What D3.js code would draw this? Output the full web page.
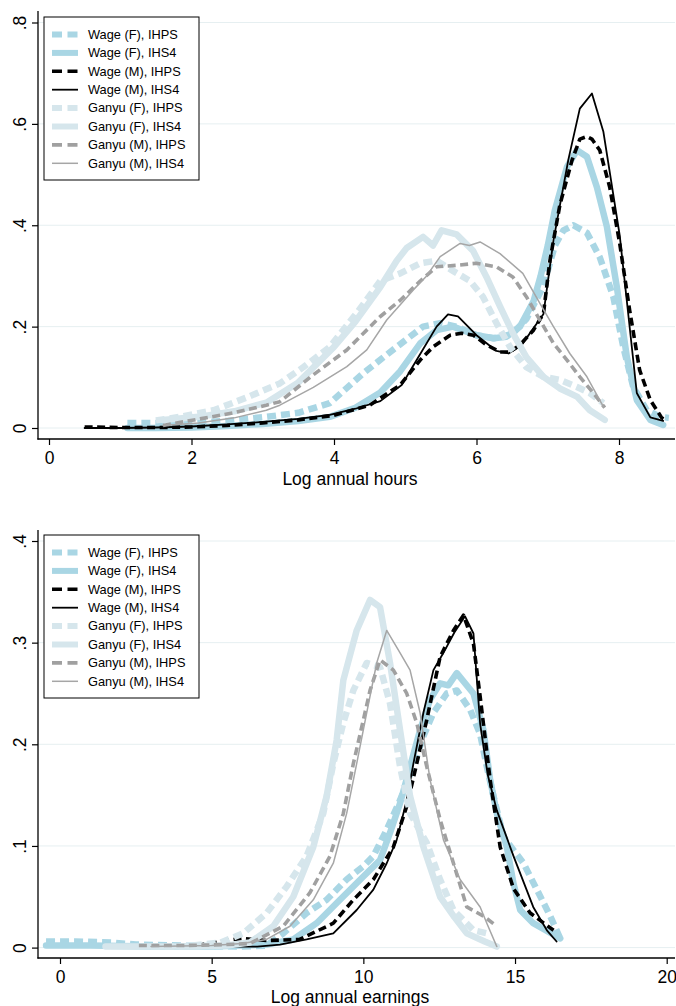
<!DOCTYPE html>
<html><head><meta charset="utf-8">
<script src="https://cdn.jsdelivr.net/npm/d3@7"></script>
<style>body{margin:0;background:#fff} text{font-family:"Liberation Sans",Arial,Helvetica,sans-serif}</style>
</head><body><svg id="c" width="676" height="1006"></svg>
<script>
// ---------- DATA ----------
const seriesLabels = ["Wage (F), IHPS","Wage (F), IHS4","Wage (M), IHPS","Wage (M), IHS4",
                      "Ganyu (F), IHPS","Ganyu (F), IHS4","Ganyu (M), IHPS","Ganyu (M), IHS4"];
const hoursTicksX = [0,2,4,6,8];
const hoursTicksY = [0,0.2,0.4,0.6,0.8];
const hoursTickLabelsY = ["0",".2",".4",".6",".8"];
const earnTicksX = [0,5,10,15,20];
const earnTicksY = [0,0.1,0.2,0.3,0.4];
const earnTickLabelsY = ["0",".1",".2",".3",".4"];

// Top panel: log annual hours (x, density)
const hoursWageF_IHPS = [[1.1,0.01],[1.5,0.01],[2,0.01],[2.5,0.014],[3.05,0.022],[3.5,0.03],[3.94,0.049],[4.41,0.108],[4.88,0.16],[5.25,0.2],[5.49,0.207],[5.72,0.2],[6.0,0.183],[6.24,0.177],[6.5,0.185],[6.7,0.215],[6.94,0.28],[7.1,0.36],[7.22,0.39],[7.36,0.4],[7.55,0.385],[7.73,0.337],[7.92,0.259],[8.06,0.16],[8.2,0.081],[8.39,0.035],[8.58,0.022],[8.7,0.02]];
const hoursWageF_IHS4 = [[1.1,0.0],[1.5,0.0],[2,0.001],[2.5,0.004],[3,0.008],[3.5,0.014],[3.94,0.022],[4.3,0.04],[4.65,0.07],[4.93,0.112],[5.21,0.167],[5.44,0.193],[5.67,0.2],[6.0,0.183],[6.24,0.177],[6.42,0.18],[6.61,0.2],[6.8,0.25],[6.9,0.3],[7.0,0.36],[7.1,0.43],[7.27,0.515],[7.41,0.548],[7.55,0.535],[7.69,0.475],[7.83,0.397],[7.97,0.278],[8.11,0.14],[8.25,0.055],[8.44,0.016],[8.62,0.006]];
const hoursWageM_IHPS = [[0.5,0.002],[1,0.001],[1.5,0.001],[2,0.002],[2.5,0.005],[3,0.01],[3.5,0.016],[4,0.025],[4.5,0.045],[4.93,0.085],[5.21,0.134],[5.39,0.16],[5.63,0.183],[5.79,0.187],[5.96,0.183],[6.14,0.164],[6.33,0.15],[6.47,0.15],[6.61,0.164],[6.8,0.193],[6.94,0.226],[7.03,0.33],[7.17,0.44],[7.34,0.528],[7.45,0.57],[7.55,0.575],[7.62,0.57],[7.73,0.548],[7.87,0.475],[8.01,0.364],[8.15,0.232],[8.29,0.114],[8.44,0.055],[8.6,0.02],[8.67,0.015]];
const hoursWageM_IHS4 = [[0.5,0.0],[1,0.0],[1.5,0.001],[2,0.003],[2.5,0.007],[3,0.012],[3.5,0.018],[3.94,0.026],[4.3,0.038],[4.65,0.053],[4.95,0.085],[5.16,0.134],[5.44,0.2],[5.6,0.224],[5.74,0.22],[6.0,0.183],[6.28,0.152],[6.45,0.147],[6.63,0.163],[6.94,0.225],[7.08,0.37],[7.29,0.53],[7.45,0.63],[7.62,0.66],[7.78,0.585],[8.01,0.38],[8.25,0.069],[8.44,0.021],[8.62,0.014]];
const hoursGanyuF_IHPS = [[1.5,0.015],[1.84,0.022],[2.31,0.035],[2.77,0.06],[3.24,0.088],[3.57,0.12],[3.94,0.16],[4.32,0.227],[4.65,0.29],[4.93,0.305],[5.21,0.325],[5.44,0.33],[5.67,0.31],[5.91,0.29],[6.09,0.259],[6.28,0.207],[6.47,0.16],[6.7,0.12],[6.94,0.101],[7.17,0.095],[7.41,0.081],[7.59,0.069],[7.78,0.049]];
const hoursGanyuF_IHS4 = [[1.6,0.016],[2.1,0.022],[2.6,0.033],[3.05,0.05],[3.5,0.09],[4.0,0.16],[4.3,0.21],[4.65,0.278],[4.88,0.33],[5.02,0.355],[5.25,0.377],[5.39,0.36],[5.51,0.39],[5.72,0.382],[5.95,0.35],[6.14,0.298],[6.33,0.24],[6.51,0.187],[6.7,0.14],[6.94,0.101],[7.17,0.078],[7.41,0.062],[7.59,0.035],[7.8,0.016]];
const hoursGanyuM_IHPS = [[1.6,0.005],[2.12,0.018],[2.59,0.03],[3.05,0.045],[3.24,0.052],[3.71,0.105],[4.18,0.154],[4.65,0.22],[4.93,0.252],[5.21,0.29],[5.44,0.318],[5.72,0.321],[6.0,0.325],[6.28,0.318],[6.51,0.298],[6.7,0.259],[6.89,0.213],[7.08,0.167],[7.27,0.134],[7.45,0.101],[7.64,0.069],[7.8,0.04]];
const hoursGanyuM_IHS4 = [[1.6,0.005],[2.1,0.01],[2.6,0.02],[3.05,0.035],[3.24,0.045],[3.71,0.08],[4.18,0.121],[4.46,0.154],[4.74,0.213],[5.11,0.272],[5.3,0.3],[5.49,0.338],[5.77,0.364],[5.9,0.36],[6.05,0.367],[6.33,0.344],[6.65,0.305],[6.89,0.246],[7.08,0.2],[7.31,0.147],[7.55,0.101],[7.78,0.042]];

// Bottom panel: log annual earnings (x, density)
const earnWageF_IHPS = [[-0.46,0.006],[0.5,0.006],[1.7,0.005],[2.5,0.003],[4,0.002],[6,0.001],[6.81,0.002],[7.36,0.014],[8.13,0.034],[8.79,0.047],[9.45,0.067],[10.0,0.08],[10.33,0.09],[10.77,0.116],[11.21,0.145],[11.65,0.178],[11.98,0.208],[12.31,0.231],[12.75,0.25],[13.08,0.253],[13.52,0.234],[13.85,0.21],[14.07,0.178],[14.29,0.149],[14.62,0.109],[15.28,0.083],[15.72,0.057],[16.16,0.031],[16.49,0.009]];
const earnWageF_IHS4 = [[-0.46,0.002],[1,0.002],[3,0.001],[5,0.001],[6.81,0.003],[7.69,0.008],[8.46,0.024],[9.23,0.047],[10.0,0.07],[10.55,0.086],[10.88,0.113],[11.21,0.142],[11.54,0.178],[11.87,0.214],[12.2,0.244],[12.53,0.26],[12.8,0.258],[13.08,0.27],[13.63,0.25],[13.96,0.214],[14.18,0.165],[14.4,0.132],[14.73,0.099],[14.95,0.063],[15.17,0.037],[15.6,0.024],[16.49,0.009]];
const earnWageM_IHPS = [[4.5,0.002],[5.5,0.007],[6.0,0.009],[6.8,0.007],[7.9,0.008],[9.01,0.024],[9.67,0.047],[10.33,0.067],[10.99,0.099],[11.43,0.139],[11.76,0.181],[12.09,0.224],[12.53,0.286],[12.97,0.312],[13.3,0.327],[13.63,0.299],[13.85,0.247],[14.18,0.165],[14.51,0.099],[14.95,0.058],[15.5,0.034],[16.27,0.017]];
const earnWageM_IHS4 = [[5.5,0.001],[6.5,0.001],[7.25,0.003],[8.13,0.008],[9.01,0.014],[9.78,0.037],[10.33,0.057],[10.77,0.083],[11.1,0.106],[11.43,0.145],[11.65,0.181],[11.98,0.231],[12.31,0.273],[12.64,0.29],[13.0,0.31],[13.35,0.326],[13.63,0.309],[13.85,0.22],[14.1,0.17],[14.4,0.135],[14.95,0.09],[15.6,0.04],[16.05,0.017],[16.37,0.006]];
const earnGanyuF_IHPS = [[3,0.001],[4,0.001],[5.3,0.005],[6.04,0.014],[6.81,0.034],[7.47,0.06],[8.13,0.09],[8.68,0.132],[9.01,0.181],[9.34,0.221],[9.67,0.253],[10.11,0.28],[10.55,0.276],[10.88,0.24],[11.21,0.178],[11.54,0.132],[12.09,0.103],[12.53,0.067],[12.97,0.037],[13.63,0.017],[14.07,0.014]];
const earnGanyuF_IHS4 = [[1.5,0.001],[3,0.001],[4.5,0.001],[5.5,0.002],[6.26,0.005],[7.03,0.021],[7.69,0.05],[8.35,0.099],[8.79,0.149],[9.12,0.204],[9.34,0.263],[9.78,0.312],[10.22,0.342],[10.55,0.335],[10.88,0.28],[11.21,0.214],[11.54,0.149],[11.98,0.099],[12.53,0.05],[13.0,0.03],[13.41,0.014],[14.0,0.006],[14.4,0.001]];
const earnGanyuM_IHPS = [[2.6,0.002],[4,0.002],[5.5,0.003],[6.26,0.004],[7.36,0.021],[8.24,0.054],[8.9,0.09],[9.34,0.132],[9.67,0.181],[10.0,0.224],[10.22,0.253],[10.55,0.283],[10.99,0.273],[11.43,0.25],[11.76,0.221],[12.09,0.178],[12.53,0.126],[12.97,0.083],[13.41,0.04],[13.96,0.031],[14.4,0.021]];
const earnGanyuM_IHS4 = [[3,0.001],[5,0.002],[6,0.004],[6.81,0.008],[7.58,0.021],[8.35,0.047],[9.01,0.083],[9.45,0.132],[9.78,0.181],[10.11,0.231],[10.44,0.28],[10.77,0.312],[11.21,0.29],[11.54,0.273],[11.87,0.231],[12.2,0.165],[12.64,0.106],[13.19,0.067],[13.85,0.04],[14.07,0.024],[14.4,0.001]];

// ---------- STYLES ----------
const styles = [
  {color:"#a9d6e4", width:6.5, dash:"9,5"},
  {color:"#a9d6e4", width:6.5, dash:null},
  {color:"#000000", width:3.6, dash:"8,4.5"},
  {color:"#000000", width:1.8, dash:null},
  {color:"#d6e6ec", width:6.5, dash:"9,5"},
  {color:"#d6e6ec", width:6.5, dash:null},
  {color:"#a0a0a0", width:3.6, dash:"8,4.5"},
  {color:"#a6a6a6", width:1.5, dash:null}
];

const svg = d3.select("#c");
const FONT = 17.5;

function panel(cfg){
  const g = svg.append("g");
  const x = d3.scaleLinear().domain(cfg.xDom).range(cfg.xRange);
  const y = d3.scaleLinear().domain(cfg.yDom).range(cfg.yRange);
  const L = cfg.box.left, R = cfg.box.right, T = cfg.box.top, B = cfg.box.bottom;
  // grid
  g.selectAll(".grid").data(cfg.yTicks).enter().append("line")
    .attr("x1", L).attr("x2", R).attr("y1", d=>y(d)).attr("y2", d=>y(d))
    .attr("stroke", "#e6eff1").attr("stroke-width", 1);
  // series
  const line = d3.line().x(d=>x(d[0])).y(d=>y(d[1]));
  cfg.series.forEach((s,i)=>{
    const st = styles[i];
    g.append("path").attr("d", line(s)).attr("fill","none")
      .attr("stroke", st.color).attr("stroke-width", st.width)
      .attr("stroke-linejoin","round").attr("stroke-linecap", st.dash ? "butt" : "round")
      .attr("stroke-dasharray", st.dash);
  });
  // axes
  const ya = d3.axisLeft(y).tickValues(cfg.yTicks).tickSize(6).tickSizeOuter(0)
    .tickFormat((d,i)=>cfg.yLabels[i]);
  const yg = g.append("g").attr("transform", `translate(${L},0)`).call(ya);
  yg.select(".domain").remove();
  yg.selectAll(".tick line").attr("stroke","#000").attr("stroke-width",1.2);
  yg.selectAll(".tick text").attr("x",null).attr("dy",null)
    .attr("transform","translate(-12,0) rotate(-90)")
    .attr("text-anchor","middle").attr("font-size",FONT).attr("fill","#000")
    .attr("font-family","Liberation Sans, Arial, sans-serif");
  const xa = d3.axisBottom(x).tickValues(cfg.xTicks).tickSize(6).tickSizeOuter(0)
    .tickFormat(d3.format("d"));
  const xg = g.append("g").attr("transform", `translate(0,${B})`).call(xa);
  xg.select(".domain").remove();
  xg.selectAll(".tick line").attr("stroke","#000").attr("stroke-width",1.2);
  xg.selectAll(".tick text").attr("y",25).attr("dy",null).attr("font-size",FONT).attr("fill","#000")
    .attr("font-family","Liberation Sans, Arial, sans-serif");
  g.append("line").attr("x1",L).attr("x2",L).attr("y1",T).attr("y2",B+0.6).attr("stroke","#000").attr("stroke-width",1.3);
  g.append("line").attr("x1",L-0.6).attr("x2",R).attr("y1",B).attr("y2",B).attr("stroke","#000").attr("stroke-width",1.3);
  g.append("text").attr("x",350).attr("y",B+cfg.titleDy).attr("text-anchor","middle")
    .attr("font-size",FONT).text(cfg.title);
  // legend
  const lg = g.append("g");
  lg.append("rect").attr("x",cfg.leg.x).attr("y",cfg.leg.y).attr("width",155).attr("height",163)
    .attr("fill","#fff").attr("stroke","#000").attr("stroke-width",1);
  seriesLabels.forEach((lab,i)=>{
    const st = styles[i];
    const yy = cfg.leg.y + 17.5 + i*18.4;
    lg.append("line").attr("x1",cfg.leg.x+8).attr("x2",cfg.leg.x+34).attr("y1",yy).attr("y2",yy)
      .attr("stroke",st.color).attr("stroke-width",Math.min(st.width,6))
      .attr("stroke-dasharray", st.dash ? "10,5.5" : null);
    lg.append("text").attr("x",cfg.leg.x+44).attr("y",yy+4.3).attr("font-size",12.8).text(lab);
  });
}

panel({
  xDom:[0,8], xRange:[49,619], yDom:[0,0.8], yRange:[428,22.5],
  box:{left:38,right:675,top:11,bottom:439},
  xTicks:hoursTicksX, yTicks:hoursTicksY, yLabels:hoursTickLabelsY,
  title:"Log annual hours", titleDy:46,
  leg:{x:44,y:17},
  series:[hoursWageF_IHPS,hoursWageF_IHS4,hoursWageM_IHPS,hoursWageM_IHS4,
          hoursGanyuF_IHPS,hoursGanyuF_IHS4,hoursGanyuM_IHPS,hoursGanyuM_IHS4]
});
panel({
  xDom:[0,20], xRange:[60,666.7], yDom:[0,0.4], yRange:[947.6,541],
  box:{left:38,right:675,top:530,bottom:958},
  xTicks:earnTicksX, yTicks:earnTicksY, yLabels:earnTickLabelsY,
  title:"Log annual earnings", titleDy:45,
  leg:{x:44,y:535},
  series:[earnWageF_IHPS,earnWageF_IHS4,earnWageM_IHPS,earnWageM_IHS4,
          earnGanyuF_IHPS,earnGanyuF_IHS4,earnGanyuM_IHPS,earnGanyuM_IHS4]
});
</script></body></html>
